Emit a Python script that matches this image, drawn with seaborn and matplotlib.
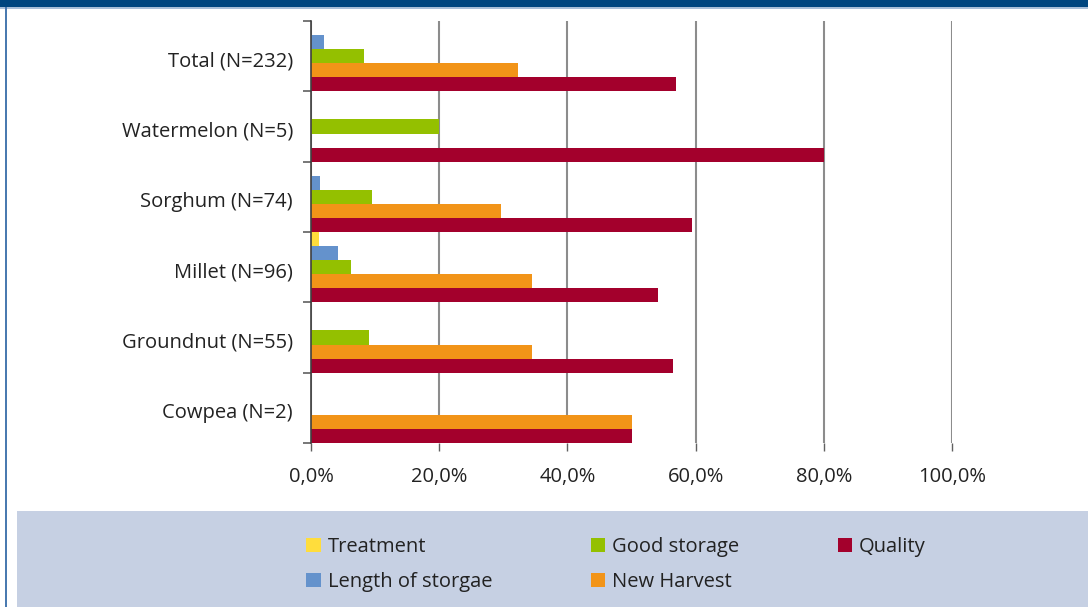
import matplotlib
matplotlib.use("Agg")
import matplotlib.pyplot as plt
from matplotlib.patches import Rectangle
from matplotlib.ticker import FixedLocator
from matplotlib.transforms import ScaledTranslation
import seaborn as sns
import pandas as pd

# Share of respondents (%) citing each reason, per crop
crops = ["Total (N=232)", "Watermelon (N=5)", "Sorghum (N=74)",
         "Millet (N=96)", "Groundnut (N=55)", "Cowpea (N=2)"]
series = ["Treatment", "Length of storgae", "Good storage", "New Harvest", "Quality"]
treatment = [0.0, 0.0, 0.0, 1.3, 0.0, 0.0]
length_of_storage = [2.1, 0.0, 1.4, 4.2, 0.0, 0.0]
good_storage = [8.2, 20.0, 9.5, 6.3, 9.1, 0.0]
new_harvest = [32.3, 0.0, 29.7, 34.4, 34.5, 50.0]
quality = [56.9, 80.0, 59.5, 54.2, 56.4, 50.0]
x_ticks = [0, 20, 40, 60, 80, 100]
x_tick_labels = ["0,0%", "20,0%", "40,0%", "60,0%", "80,0%", "100,0%"]

colors = ["#ffdd3c", "#6492cc", "#94c000", "#f29418", "#a3002c"]

values = [treatment, length_of_storage, good_storage, new_harvest, quality]
rows = []
for name, vals in zip(series, values):
    for crop, v in zip(crops, vals):
        rows.append({"crop": crop, "reason": name, "pct": v})
df = pd.DataFrame(rows)

sns.set_style("white")
plt.rcParams["font.family"] = ["Open Sans", "DejaVu Sans"]
FS = 14.5

fig = plt.figure(figsize=(10.88, 6.07), dpi=100)
fig.patch.set_facecolor("white")

# Frame decorations: header band, left border, legend panel
fig.patches.append(Rectangle((0, 1 - 7 / 607), 1, 7 / 607, transform=fig.transFigure,
                             facecolor="#00467f", edgecolor="none", zorder=0))
fig.patches.append(Rectangle((0, 1 - 9 / 607), 1, 2 / 607, transform=fig.transFigure,
                             facecolor="#a9bfd8", edgecolor="none", zorder=0))
fig.patches.append(Rectangle((5 / 1088, 0), 2 / 1088, 1 - 7 / 607, transform=fig.transFigure,
                             facecolor="#4a7ab0", edgecolor="none", zorder=0))
fig.patches.append(Rectangle((17 / 1088, 0), 1 - 17 / 1088, 96 / 607, transform=fig.transFigure,
                             facecolor="#c6d0e3", edgecolor="none", zorder=0))

ax = fig.add_axes([311 / 1088, 1 - 443 / 607, (952 - 311) / 1088, (443 - 21) / 607])
ax.set_facecolor("none")

sns.barplot(data=df, x="pct", y="crop", hue="reason", order=crops, hue_order=series,
            palette=colors, orient="h", width=1.0, gap=0, saturation=1,
            linewidth=0, edgecolor="none", ax=ax, legend=False, zorder=3)

ax.set_xlim(0, 100)
ax.set_ylim(5.5, -0.5)
ax.set_xticks(x_ticks)
ax.set_xticklabels(x_tick_labels)
ax.xaxis.grid(True, color="#8c8c8c", linewidth=1.5, zorder=1)
ax.yaxis.grid(False)
ax.set_axisbelow(True)
ax.set_xlabel("")
ax.set_ylabel("")

for side in ["top", "right", "bottom"]:
    ax.spines[side].set_visible(False)
ax.spines["left"].set_color("#404040")
ax.spines["left"].set_linewidth(1.2)
ax.spines["left"].set_zorder(4)

ax.tick_params(axis="x", which="major", direction="out", length=5.5, width=1,
               color="#606060", pad=11.5, labelsize=FS, labelcolor="#222222", bottom=True)
ax.tick_params(axis="y", which="major", length=0, pad=13, labelsize=FS, labelcolor="#222222")
ax.yaxis.set_minor_locator(FixedLocator([i - 0.5 for i in range(len(crops) + 1)]))
ax.tick_params(axis="y", which="minor", direction="out", length=6, width=1.2,
               color="#606060", left=True)

# nudge category labels slightly downward
shift = ScaledTranslation(0, -2.5 / 100, fig.dpi_scale_trans)
for lbl in ax.get_yticklabels():
    lbl.set_transform(lbl.get_transform() + shift)

handles = [Rectangle((0, 0), 1, 1, facecolor=c, edgecolor="none") for c in colors]
fig.legend(handles, series, ncol=3, loc="center", bbox_to_anchor=(616 / 1088, 1 - 564.5 / 607),
           frameon=False, fontsize=FS, handlelength=0.7, handleheight=0.7,
           handletextpad=0.35, columnspacing=4.9, labelspacing=0.74,
           labelcolor="#222222")

fig.savefig("out.png", dpi=100, facecolor=fig.get_facecolor())
